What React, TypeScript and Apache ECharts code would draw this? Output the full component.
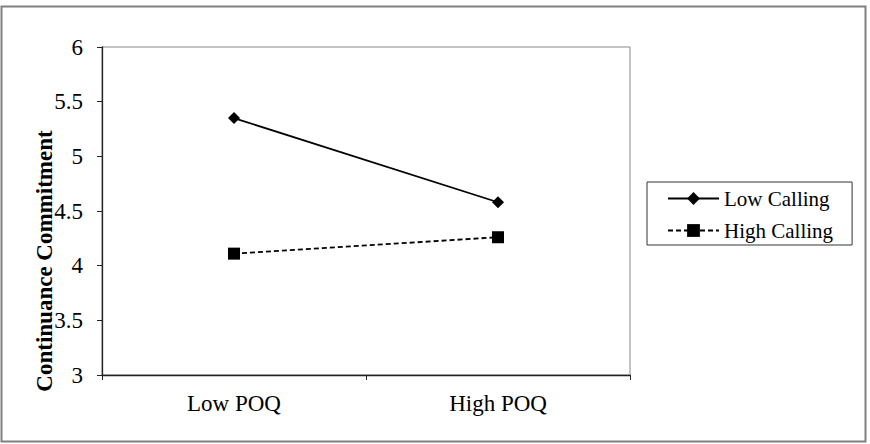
import React, { useEffect, useRef } from "react";
import * as echarts from "echarts";

// Interaction plot: continuance commitment by POQ level and calling
const categories = ["Low POQ", "High POQ"];
const lowCalling = [5.35, 4.58];
const highCalling = [4.11, 4.26];
const yTicks = { min: 3, max: 6, interval: 0.5 };

const FONT = "'Liberation Serif', 'Times New Roman', serif";

export default function App() {
  const ref = useRef<HTMLDivElement>(null);

  useEffect(() => {
    if (!ref.current) return;
    const chart = echarts.init(ref.current, null, { renderer: "svg" });
    chart.setOption({
      animation: false,
      backgroundColor: "#ffffff",
      textStyle: { fontFamily: FONT },
      grid: {
        left: 102,
        right: 240,
        top: 47,
        bottom: 69,
        show: true,
        borderColor: "#888888",
        borderWidth: 1,
        backgroundColor: "transparent",
      },
      xAxis: {
        type: "category",
        data: categories,
        boundaryGap: true,
        axisLine: { lineStyle: { color: "#222222", width: 1.3 } },
        axisTick: { show: true, length: 5, inside: false, alignWithLabel: false, lineStyle: { color: "#222222" } },
        axisLabel: { color: "#000000", fontSize: 23, fontFamily: FONT, margin: 17 },
        splitLine: { show: false },
      },
      yAxis: {
        type: "value",
        min: yTicks.min,
        max: yTicks.max,
        interval: yTicks.interval,
        axisLine: { show: true, lineStyle: { color: "#222222", width: 1.3 } },
        axisTick: { show: true, length: 5, inside: false, lineStyle: { color: "#222222" } },
        axisLabel: { color: "#000000", fontSize: 23, fontFamily: FONT, margin: 19 },
        splitLine: { show: false },
      },
      legend: {
        orient: "vertical",
        left: 647,
        top: 182,
        padding: [5, 19, 3, 20],
        itemGap: 9,
        itemWidth: 51,
        itemHeight: 16,
        itemTextGap: 7,
        borderColor: "#333333",
        borderWidth: 1,
        textStyle: { color: "#000000", fontSize: 21, fontFamily: FONT, lineHeight: 23 },
        data: ["Low Calling", "High Calling"],
      },
      graphic: [
        {
          type: "rect",
          shape: { x: 1.5, y: 6.5, width: 864, height: 435 },
          style: { fill: "none", stroke: "#808080", lineWidth: 2 },
          silent: true,
        },
        {
          type: "text",
          x: 44,
          y: 261,
          rotation: Math.PI / 2,
          style: {
            text: "Continuance Commitment",
            font: `bold 23px ${FONT}`,
            fill: "#000000",
            align: "center",
            verticalAlign: "middle",
          },
        },
      ],
      series: [
        {
          name: "Low Calling",
          type: "line",
          data: lowCalling,
          symbol: "diamond",
          symbolSize: 12,
          itemStyle: { color: "#000000" },
          lineStyle: { color: "#000000", width: 1.8, type: "solid" },
        },
        {
          name: "High Calling",
          type: "line",
          data: highCalling,
          symbol: "rect",
          symbolSize: 12,
          itemStyle: { color: "#000000" },
          lineStyle: { color: "#000000", width: 1.8, type: [5, 3] },
        },
      ],
    });
    return () => chart.dispose();
  }, []);

  return (
    <div
      ref={ref}
      style={{ position: "fixed", left: 0, top: 0, width: 870, height: 444 }}
    />
  );
}
